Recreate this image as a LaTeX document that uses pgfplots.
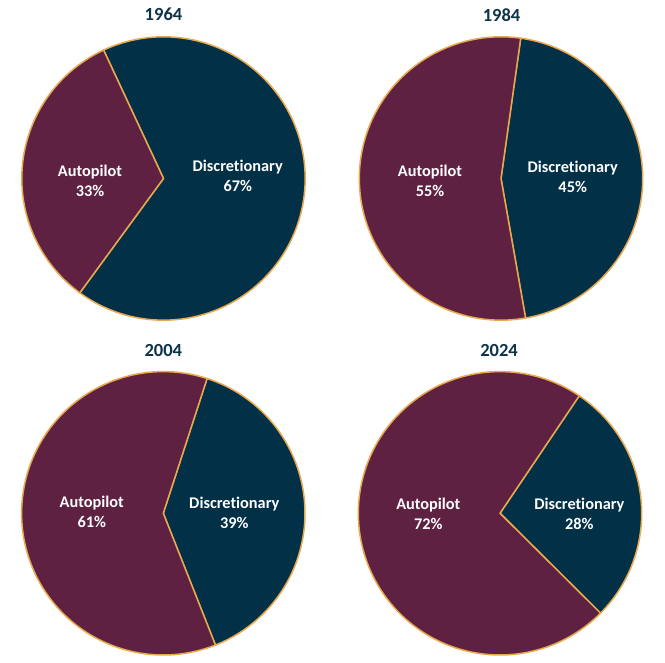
\documentclass[border=0pt]{standalone}
\usepackage{fontspec}
\setmainfont{Carlito}[Ligatures=NoCommon]
\usepackage{pgfplots}
\pgfplotsset{compat=1.18}
\definecolor{navy}{HTML}{023047}
\definecolor{maroon}{HTML}{5F2142}
\definecolor{gold}{HTML}{E8A84E}
\definecolor{titlec}{HTML}{0D3349}
\pgfplotsset{
  pieaxis/.style={anchor=center, scale only axis, width=283.4pt, height=283.4pt,
    xmin=-1, xmax=1, ymin=-1, ymax=1, hide axis, clip=false},
  wedge/.style={draw=gold, line width=1.5pt, line join=round, samples=120, variable=\t},
}
\tikzset{
  ptitle/.style={font=\fontsize{18.5}{22}\selectfont\bfseries, text=titlec},
  plabel/.style={font=\fontsize{16.3}{20}\selectfont\bfseries, text=white, align=center},
}
\begin{document}
\begin{tikzpicture}[x=1pt,y=1pt]
\useasboundingbox (0,0) rectangle (665,663);
% 1964: Autopilot 33, Discretionary 67, start angle 115
\begin{axis}[pieaxis, at={(163.5pt,484.5pt)}]
\addplot[wedge, fill=navy, domain={115+3.6*33}:{115+360}] ({cos(\t)},{sin(\t)}) -- (axis cs:0,0) -- cycle;
\addplot[wedge, fill=maroon, domain=115:{115+3.6*33}] ({cos(\t)},{sin(\t)}) -- (axis cs:0,0) -- cycle;
\node[plabel] at (axis cs:-0.519,-0.016) {Autopilot\\33\%};
\node[plabel] at (axis cs:0.524,0.018) {Discretionary\\67\%};
\end{axis}
\node[ptitle] at (163.5,649) {1964};
% 1984: Autopilot 55, Discretionary 45, start angle 82
\begin{axis}[pieaxis, at={(501pt,484.5pt)}]
\addplot[wedge, fill=navy, domain={82+3.6*55}:{82+360}] ({cos(\t)},{sin(\t)}) -- (axis cs:0,0) -- cycle;
\addplot[wedge, fill=maroon, domain=82:{82+3.6*55}] ({cos(\t)},{sin(\t)}) -- (axis cs:0,0) -- cycle;
\node[plabel] at (axis cs:-0.501,-0.016) {Autopilot\\55\%};
\node[plabel] at (axis cs:0.506,0.011) {Discretionary\\45\%};
\end{axis}
\node[ptitle] at (501.5,648) {1984};
% 2004: Autopilot 61, Discretionary 39, start angle 72
\begin{axis}[pieaxis, at={(163.3pt,149.7pt)}]
\addplot[wedge, fill=navy, domain={72+3.6*61}:{72+360}] ({cos(\t)},{sin(\t)}) -- (axis cs:0,0) -- cycle;
\addplot[wedge, fill=maroon, domain=72:{72+3.6*61}] ({cos(\t)},{sin(\t)}) -- (axis cs:0,0) -- cycle;
\node[plabel] at (axis cs:-0.505,0.009) {Autopilot\\61\%};
\node[plabel] at (axis cs:0.501,0.0) {Discretionary\\39\%};
\end{axis}
\node[ptitle] at (163.3,312.3) {2004};
% 2024: Autopilot 72, Discretionary 28, start angle 56
\begin{axis}[pieaxis, at={(500pt,149.7pt)}]
\addplot[wedge, fill=navy, domain={56+3.6*72}:{56+360}] ({cos(\t)},{sin(\t)}) -- (axis cs:0,0) -- cycle;
\addplot[wedge, fill=maroon, domain=56:{56+3.6*72}] ({cos(\t)},{sin(\t)}) -- (axis cs:0,0) -- cycle;
\node[plabel] at (axis cs:-0.506,-0.005) {Autopilot\\72\%};
\node[plabel] at (axis cs:0.560,-0.005) {Discretionary\\28\%};
\end{axis}
\node[ptitle] at (499,312.3) {2024};
\end{tikzpicture}
\end{document}
